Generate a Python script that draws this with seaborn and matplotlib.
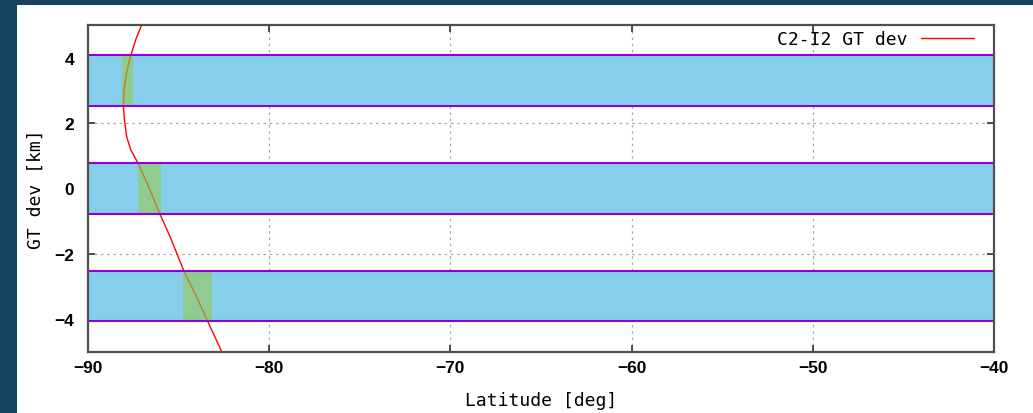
import matplotlib
matplotlib.use("Agg")
import matplotlib.pyplot as plt
import seaborn as sns
import pandas as pd
from matplotlib.patches import Rectangle

# ---- data ----
lat = [-87.04, -87.36, -87.64, -87.87, -88.01, -88.05, -87.99, -87.87, -87.64,
       -87.22, -86.58, -86.03, -85.47, -84.70, -84.00, -83.36, -82.62]
gt_dev = [5.0, 4.56, 4.07, 3.54, 3.02, 2.53, 2.10, 1.59, 1.18,
          0.75, -0.05, -0.79, -1.48, -2.54, -3.33, -4.11, -5.0]
band_low = [2.53, -0.77, -4.07]
band_high = [4.07, 0.77, -2.53]
green_lat0 = [-88.12, -87.24, -84.76]
green_lat1 = [-87.53, -85.99, -83.17]
x_ticks = [-90, -80, -70, -60, -50, -40]
y_ticks = [-4, -2, 0, 2, 4]
series_name = "C2-I2 GT dev"

df = pd.DataFrame({"lat": lat, "dev": gt_dev, "series": series_name})

sns.set_style("ticks")
W, H = 1033, 414
fig = plt.figure(figsize=(W / 100, H / 100), dpi=100, facecolor="#15435e")
fig.patches.append(Rectangle((17 / W, 0), 1 - 17 / W, 408 / H,
                             transform=fig.transFigure, facecolor="white",
                             edgecolor="none", zorder=-10))
ax = fig.add_axes([88 / W, 1 - 352.7 / H, (994 - 88) / W, (352.7 - 26) / H])
ax.set_zorder(5)
ax.set_facecolor("white")

# bands
for lo, hi in zip(band_low, band_high):
    ax.axhspan(lo, hi, facecolor="#87ceeb", edgecolor="none", zorder=1)
    ax.axhline(lo, color="#9400d3", lw=1.5, zorder=5)
    ax.axhline(hi, color="#9400d3", lw=1.5, zorder=5)

# curve
sns.lineplot(data=df, x="lat", y="dev", hue="series", palette=["#ff0000"],
             sort=False, estimator=None, lw=1.0, ax=ax, zorder=2)

# green transparent boxes
for x0, x1, lo, hi in zip(green_lat0, green_lat1, band_low, band_high):
    ax.add_patch(Rectangle((x0, lo), x1 - x0, hi - lo,
                           facecolor=(150 / 255, 203 / 255, 88 / 255),
                           alpha=0.62, edgecolor="none", zorder=3))

ax.set_xlim(-90, -40)
ax.set_ylim(-5, 5)
ax.set_xticks(x_ticks)
ax.set_yticks(y_ticks)
ax.set_xticklabels(["\u2212%d" % abs(v) if v < 0 else str(v) for v in x_ticks],
                   family="Liberation Sans", fontsize=12.5, weight="bold",
                   color="black")
ax.set_yticklabels(["\u2212%d" % abs(v) if v < 0 else str(v) for v in y_ticks],
                   family="Liberation Sans", fontsize=12.5, weight="bold",
                   color="black")
ax.tick_params(direction="in", length=5, width=1.2, color="#303030",
               top=True, right=True)
ax.tick_params(axis="y", pad=10)
ax.tick_params(axis="x", pad=6)

ax.grid(True, color="#a8a8a8", linestyle=(0, (2, 3)), lw=0.9, zorder=0.5)
ax.set_axisbelow(True)

for s in ax.spines.values():
    s.set_color("#505050")
    s.set_linewidth(1.6)
    s.set_zorder(6)

mono = "DejaVu Sans Mono"
ax.set_xlabel("Latitude [deg]", family=mono, fontsize=13, color="black")
ax.set_ylabel("GT dev [km]", family=mono, fontsize=13, color="black")
ax.xaxis.set_label_coords(0.5, -0.12)
ax.yaxis.set_label_coords(-0.048, 0.5)

leg = ax.legend(loc="upper right", bbox_to_anchor=((979 - 88) / 906, 1.0),
                frameon=False, markerfirst=False,
                handlelength=2.9, handletextpad=0.75, borderaxespad=0.0,
                borderpad=0.3, prop={"family": mono, "size": 13})
for t in leg.get_texts():
    t.set_text(series_name)
    t.set_color("black")

fig.savefig("out.png", dpi=100, facecolor=fig.get_facecolor())
